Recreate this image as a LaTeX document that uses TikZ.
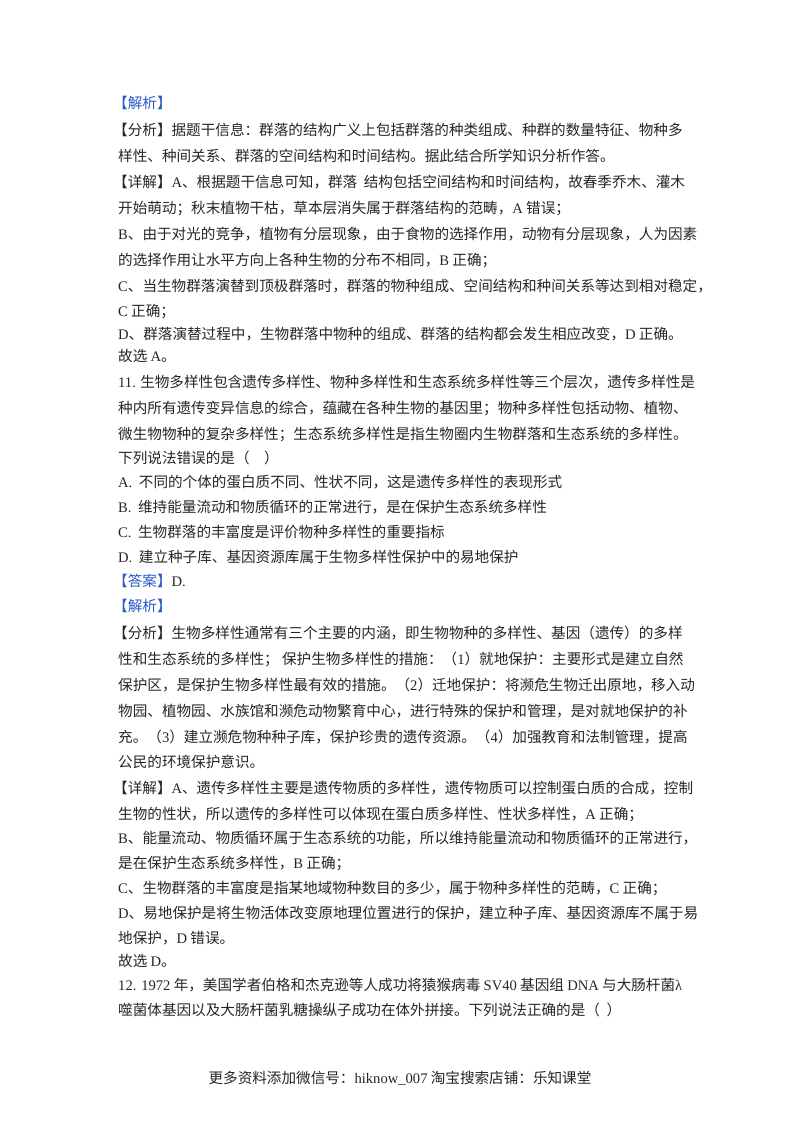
\documentclass[tikz,border=0pt]{standalone}
\usepackage{fontspec}
\newfontfamily\cjk{Noto Sans CJK SC}
\newfontfamily\lat{Liberation Serif}
\definecolor{hdblue}{RGB}{40,90,200}
\begin{document}
\begin{tikzpicture}[x=1pt,y=-1pt,
  ln/.style={anchor=base west,inner sep=0pt,font=\cjk\fontsize{14.6}{16}\selectfont,text=black!85}]
\useasboundingbox (0,0) rectangle (800,1132);
\fill[white] (0,0) rectangle (800,1132);
\node[ln,text=hdblue] (l1) at (113,108) {【解析】};
\node[ln] (l2) at (113,135) {【分析】据题干信息：群落的结构广义上包括群落的种类组成、种群的数量特征、物种多};
\node[ln] (l3) at (118,161) {样性、种间关系、群落的空间结构和时间结构。据此结合所学知识分析作答。};
\node[ln] (l4) at (113,187) {【详解】{\lat A}、根据题干信息可知，群落\ \ 结构包括空间结构和时间结构，故春季乔木、灌木};
\node[ln] (l5) at (118,213) {开始萌动；秋末植物干枯，草本层消失属于群落结构的范畴，{\lat A} 错误；};
\node[ln] (l6) at (118,239) {{\lat B}、由于对光的竞争，植物有分层现象，由于食物的选择作用，动物有分层现象，人为因素};
\node[ln] (l7) at (118,265) {的选择作用让水平方向上各种生物的分布不相同，{\lat B} 正确；};
\node[ln] (l8) at (118,291) {{\lat C}、当生物群落演替到顶极群落时，群落的物种组成、空间结构和种间关系等达到相对稳定，};
\node[ln] (l9) at (118,316) {{\lat C} 正确；};
\node[ln] (l10) at (118,339) {{\lat D}、群落演替过程中，生物群落中物种的组成、群落的结构都会发生相应改变，{\lat D} 正确。};
\node[ln] (l11) at (118,361) {故选 {\lat A}。};
\node[ln] (l12) at (118,387) {{\lat 11.} 生物多样性包含遗传多样性、物种多样性和生态系统多样性等三个层次，遗传多样性是};
\node[ln] (l13) at (118,413) {种内所有遗传变异信息的综合，蕴藏在各种生物的基因里；物种多样性包括动物、植物、};
\node[ln] (l14) at (118,439) {微生物物种的复杂多样性；生态系统多样性是指生物圈内生物群落和生态系统的多样性。};
\node[ln] (l15) at (118,463) {下列说法错误的是（\quad）};
\node[ln] (l16) at (118,487) {{\lat A.}\ \ 不同的个体的蛋白质不同、性状不同，这是遗传多样性的表现形式};
\node[ln] (l17) at (118,512) {{\lat B.}\ \ 维持能量流动和物质循环的正常进行，是在保护生态系统多样性};
\node[ln] (l18) at (118,537) {{\lat C.}\ \ 生物群落的丰富度是评价物种多样性的重要指标};
\node[ln] (l19) at (118,562) {{\lat D.}\ \ 建立种子库、基因资源库属于生物多样性保护中的易地保护};
\node[ln] (l20) at (113,586) {{\color{hdblue}【答案】}{\lat D.}};
\node[ln,text=hdblue] (l21) at (113,611) {【解析】};
\node[ln] (l22) at (113,638) {【分析】生物多样性通常有三个主要的内涵，即生物物种的多样性、基因（遗传）的多样};
\node[ln] (l23) at (118,664) {性和生态系统的多样性；\ 保护生物多样性的措施：（{\lat 1}）就地保护：主要形式是建立自然};
\node[ln] (l24) at (118,690) {保护区，是保护生物多样性最有效的措施。（{\lat 2}）迁地保护：将濒危生物迁出原地，移入动};
\node[ln] (l25) at (118,716) {物园、植物园、水族馆和濒危动物繁育中心，进行特殊的保护和管理，是对就地保护的补};
\node[ln] (l26) at (118,742) {充。（{\lat 3}）建立濒危物种种子库，保护珍贵的遗传资源。（{\lat 4}）加强教育和法制管理，提高};
\node[ln] (l27) at (118,767) {公民的环境保护意识。};
\node[ln] (l28) at (113,793) {【详解】{\lat A}、遗传多样性主要是遗传物质的多样性，遗传物质可以控制蛋白质的合成，控制};
\node[ln] (l29) at (118,819) {生物的性状，所以遗传的多样性可以体现在蛋白质多样性、性状多样性，{\lat A} 正确；};
\node[ln] (l30) at (118,843) {{\lat B}、能量流动、物质循环属于生态系统的功能，所以维持能量流动和物质循环的正常进行，};
\node[ln] (l31) at (118,868) {是在保护生态系统多样性，{\lat B} 正确；};
\node[ln] (l32) at (118,893) {{\lat C}、生物群落的丰富度是指某地域物种数目的多少，属于物种多样性的范畴，{\lat C} 正确；};
\node[ln] (l33) at (118,918) {{\lat D}、易地保护是将生物活体改变原地理位置进行的保护，建立种子库、基因资源库不属于易};
\node[ln] (l34) at (118,943) {地保护，{\lat D} 错误。};
\node[ln] (l35) at (118,966) {故选 {\lat D}。};
\node[ln] (l36) at (118,990) {{\lat 12. 1972} 年，美国学者伯格和杰克逊等人成功将猿猴病毒 {\lat SV40} 基因组 {\lat DNA} 与大肠杆菌{\lat λ}};
\node[ln] (l37) at (118,1015) {噬菌体基因以及大肠杆菌乳糖操纵子成功在体外拼接。下列说法正确的是（\ \ ）};
\node[ln,anchor=base] (foot) at (400,1083) {更多资料添加微信号：{\lat hiknow\_007}\ 淘宝搜索店铺：乐知课堂};
\end{tikzpicture}
\end{document}
